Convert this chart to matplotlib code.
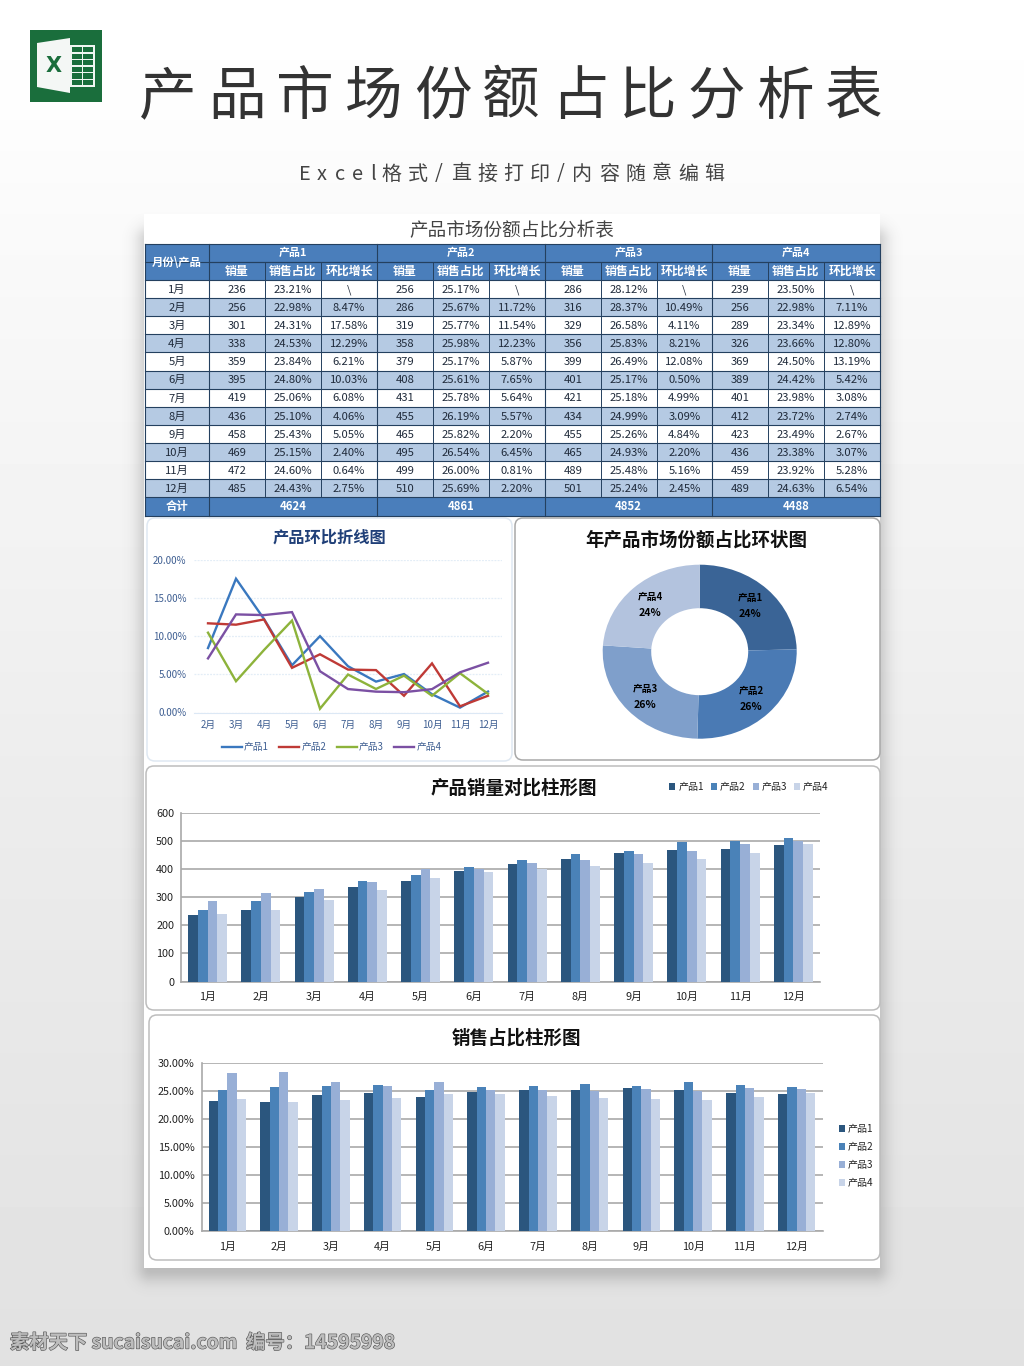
import numpy as np
import matplotlib
matplotlib.use("Agg")
import matplotlib.pyplot as plt
from matplotlib.patches import Rectangle, FancyBboxPatch, Polygon
from matplotlib.font_manager import FontProperties
from matplotlib.textpath import TextPath
import matplotlib.patheffects as pe

plt.rcParams['font.family'] = ['Noto Sans CJK SC', 'DejaVu Sans']

# ---------- data ----------
months = ['1月','2月','3月','4月','5月','6月','7月','8月','9月','10月','11月','12月']
products = ['产品1','产品2','产品3','产品4']
sales1 = [236,256,301,338,359,395,419,436,458,469,472,485]
sales2 = [256,286,319,358,379,408,431,455,465,495,499,510]
sales3 = [286,316,329,356,399,401,421,434,455,465,489,501]
sales4 = [239,256,289,326,369,389,401,412,423,436,459,489]
share1 = [23.21,22.98,24.31,24.53,23.84,24.80,25.06,25.10,25.43,25.15,24.60,24.43]
share2 = [25.17,25.67,25.77,25.98,25.17,25.61,25.78,26.19,25.82,26.54,26.00,25.69]
share3 = [28.12,28.37,26.58,25.83,26.49,25.17,25.18,24.99,25.26,24.93,25.48,25.24]
share4 = [23.50,22.98,23.34,23.66,24.50,24.42,23.98,23.72,23.49,23.38,23.92,24.63]
growth1 = [None,8.47,17.58,12.29,6.21,10.03,6.08,4.06,5.05,2.40,0.64,2.75]
growth2 = [None,11.72,11.54,12.23,5.87,7.65,5.64,5.57,2.20,6.45,0.81,2.20]
growth3 = [None,10.49,4.11,8.21,12.08,0.50,4.99,3.09,4.84,2.20,5.16,2.45]
growth4 = [None,7.11,12.89,12.80,13.19,5.42,3.08,2.74,2.67,3.07,5.28,6.54]
totals = [4624,4861,4852,4488]
donut_pct = ['24%','26%','26%','24%']
sub_headers = ['销量','销售占比','环比增长']
sales = [sales1,sales2,sales3,sales4]
shares = [share1,share2,share3,share4]
growths = [growth1,growth2,growth3,growth4]

W, H = 1024, 1366
fig = plt.figure(figsize=(W/100, H/100), dpi=100)
pg = fig.add_axes([0,0,1,1], zorder=0)
pg.set_xlim(0,W); pg.set_ylim(H,0); pg.axis('off')

def axpx(x0,y0,x1,y1):
    a = fig.add_axes([x0/W, 1-y1/H, (x1-x0)/W, (y1-y0)/H], zorder=2)
    a.patch.set_alpha(0)
    return a

# ---------- background ----------
yy, xx = np.mgrid[0:H, 0:W]
grey = np.interp(yy[:,0], [0,120,214,800,1366], [255,253,250,236,225])
pg.imshow(np.repeat(grey[:,None],W,axis=1)/255, cmap='gray', vmin=0, vmax=1,
          extent=(0,W,H,0), aspect='auto', zorder=0)
dx = np.maximum(np.maximum(150-xx, xx-874), 0)
dy = np.maximum(np.maximum(240-yy, yy-1268), 0)
d = np.hypot(dx,dy)
sh = np.zeros((H,W,4)); sh[...,:3] = 0.3
sh[...,3] = 0.26*np.exp(-(d/14.0)**2)
pg.imshow(sh, extent=(0,W,H,0), aspect='auto', zorder=1)
pg.set_xlim(0,W); pg.set_ylim(H,0)
pg.add_patch(Rectangle((144,214),736,1054,fc='white',ec='none',zorder=2))

# ---------- header ----------
def spaced(x, y, s, size_px, spacing, **kw):
    fp = FontProperties(family='Noto Sans CJK SC', weight=kw.get('weight','normal'))
    for ch in s:
        w = TextPath((0,0), ch, size=size_px, prop=fp).get_extents().width if ch.isascii() else size_px
        if ch.isascii(): w = w + size_px*0.12
        pg.text(x, y, ch, fontsize=size_px*0.72, ha='left', va='center', zorder=5, **kw)
        x += w + spacing

# icon
pg.add_patch(Rectangle((30,30),72,72,fc='#1a6e3c',ec='none',zorder=5))
pg.add_patch(Rectangle((70,45),25,42,fc='#f1f6f2',ec='none',zorder=6))
for r in range(6):
    for c in range(2):
        pg.add_patch(Rectangle((72+c*11,47+r*6.6),9.5,5.2,fc='#1a6e3c',ec='none',zorder=7))
pg.add_patch(Polygon([(37,43),(70,38),(70,93),(37,87)],fc='#f4f7f5',ec='none',zorder=8))
pg.text(54,65.5,'X',color='#1a6e3c',fontsize=15,fontweight='bold',ha='center',va='center',
        family=['Liberation Sans Narrow','DejaVu Sans'],zorder=9)

title = '产品市场份额占比分析表'
for i,ch in enumerate(title):
    pg.text(168+i*68.6, 97.5, ch, fontsize=41.5, color='#333333', ha='center', va='center', zorder=5)
spaced(299,174,'Excel格式/直接打印/内容随意编辑',20,6.4,color='#444444')
pg.text(512,230.5,title,fontsize=13.4,color='#444444',ha='center',va='center',zorder=5)

# ---------- table ----------
navy = '#24405f'; hdr = '#4a7ebb'; band = '#b5cae3'
cx = [145,209,265,321,377,433,489,545,601,657,712,768,824,880]
ry = [244,262,280] + [280+18.1*(i+1) for i in range(12)] + [516]
T0,T1 = cx[0],cx[-1]
pg.add_patch(Rectangle((T0,ry[0]),T1-T0,ry[2]-ry[0],fc=hdr,ec='none',zorder=3))
pg.add_patch(Rectangle((T0,ry[14]),T1-T0,ry[15]-ry[14],fc=hdr,ec='none',zorder=3))
for i in range(12):
    if i%2==1:
        pg.add_patch(Rectangle((T0,ry[2+i]),T1-T0,ry[3+i]-ry[2+i],fc=band,ec='none',zorder=3))
for y in ry:
    pg.plot([T0,T1],[y,y],color=navy,lw=0.8,zorder=4)
pg.plot([cx[1],T1],[ry[1]]*2,color=navy,lw=0.8,zorder=4)
for j,x in enumerate(cx):
    if j%3==1 or j==0 or j==13:
        pg.plot([x,x],[ry[0],ry[-1]],color=navy,lw=0.8,zorder=4)
    else:
        pg.plot([x,x],[ry[1],ry[-2]],color=navy,lw=0.7,zorder=4)
hk = dict(color='white',fontweight='bold',ha='center',va='center',zorder=5)
tk = dict(color='#1f2a3a',ha='center',va='center',zorder=5,fontsize=8.1)
pg.text((cx[0]+cx[1])/2,ry[1],'月份\\产品',fontsize=8.2,**hk)
pg.text((cx[0]+cx[1])/2,(ry[14]+ry[15])/2,'合计',fontsize=8.2,**hk)
for p in range(4):
    a = cx[1+3*p]; b = cx[4+3*p]
    pg.text((a+b)/2,(ry[0]+ry[1])/2,products[p],fontsize=7.9,**hk)
    pg.text((a+b)/2,(ry[14]+ry[15])/2,str(totals[p]),fontsize=8.2,**hk)
    for k in range(3):
        pg.text((cx[1+3*p+k]+cx[2+3*p+k])/2,(ry[1]+ry[2])/2+0.5,sub_headers[k],fontsize=8.6,**hk)
for i,m in enumerate(months):
    yc = (ry[2+i]+ry[3+i])/2+0.8
    pg.text((cx[0]+cx[1])/2,yc,m,**{**tk,'fontsize':8.1})
    for p in range(4):
        g = growths[p][i]
        vals = [str(sales[p][i]), f'{shares[p][i]:.2f}%', '\\' if g is None else f'{g:.2f}%']
        for k in range(3):
            pg.text((cx[1+3*p+k]+cx[2+3*p+k])/2,yc,vals[k],**tk)

# ---------- cards ----------
def card(x0,y0,x1,y1,ec):
    pg.add_patch(FancyBboxPatch((x0+8,y0+8),x1-x0-16,y1-y0-16,boxstyle='round,pad=8,rounding_size=8',
                                fc='white',ec=ec,lw=1.1,zorder=3))
card(147,518,512,761,'#dfe8f2')
card(515,518,880,760,'#a8a8a8')
card(146,766,880,1010,'#bdbdbd')
card(149,1015,880,1260,'#bdbdbd')

# ---------- line chart ----------
lcol = ['#3a78bf','#bf3a36','#8db33b','#7b50a3']
a1 = axpx(194,560.3,502,712.5)
for p in range(4):
    a1.plot(months[1:],growths[p][1:],color=lcol[p],lw=1.7,label=products[p],solid_joinstyle='miter')
a1.set_xlim(-0.5,10.5); a1.set_ylim(0,20)
a1.set_yticks([0,5,10,15,20]); a1.set_yticklabels([f'{v:.2f}%' for v in [0,5,10,15,20]])
a1.grid(axis='y',color='#e3edf7',lw=0.9,ls=(0,(1.5,1)))
a1.set_axisbelow(True)
for s in a1.spines.values(): s.set_visible(False)
a1.spines['bottom'].set_visible(True); a1.spines['bottom'].set_color('#dce8f5')
a1.tick_params(length=0,labelsize=7,labelcolor='#3f5f92')
a1.tick_params(axis='x',pad=5.5); a1.tick_params(axis='y',pad=5.5)
a1.legend(loc='center',bbox_to_anchor=(331.5,747),bbox_transform=pg.transData,ncol=4,frameon=False,
          fontsize=7,labelcolor='#3f5f92',handlelength=2.06,handletextpad=0.2,columnspacing=1.1,borderpad=0)
pg.text(329,538,'产品环比折线图',fontsize=11.7,fontweight='bold',color='#1f3f78',ha='center',va='center',zorder=5)

# ---------- donut ----------
a2 = axpx(699.7-97,651.7-87,699.7+97,651.7+87)
dcol = ['#3a6496','#4a7ab4','#7f9fcb','#b3c3de']
a2.pie(totals,colors=dcol,startangle=90,counterclock=False,radius=1,
       wedgeprops=dict(width=0.5,edgecolor='none'))
a2.set_aspect('auto')
a2.set_xlim(-1,1); a2.set_ylim(-1,1)
dpos = [(750,598),(751,691),(645,689),(650,597)]
for (x,y),n,v in zip(dpos,products,donut_pct):
    a2.text(x,y,n,transform=pg.transData,fontsize=7,fontweight='bold',color='black',ha='center',va='center')
    a2.text(x,y+16,v,transform=pg.transData,fontsize=7.6,fontweight='bold',color='black',ha='center',va='center')
pg.text(696.5,540,'年产品市场份额占比环状图',fontsize=13.3,fontweight='bold',color='#111111',ha='center',va='center',zorder=5)

# ---------- bars ----------
bcol = ['#2b567e','#4a82b8','#98afd6','#c8d4e8']
def bars(a,series,grp,xpad):
    x = np.arange(len(months)); w = grp/4
    for p,s in enumerate(series):
        a.bar(x+(p-1.5)*w,s,w,color=bcol[p],label=products[p],zorder=3)
    a.set_xticks(x); a.set_xticklabels(months)
    a.set_xlim(-0.5,len(months)-0.5)
    a.grid(axis='y',color='#a9a9a9',lw=1.2)
    a.set_axisbelow(True)
    for k in ['top','right']: a.spines[k].set_visible(False)
    for k in ['left','bottom']:
        a.spines[k].set_color('#a9a9a9'); a.spines[k].set_linewidth(1.2)
    a.tick_params(length=0,labelsize=7.8,labelcolor='#222222')
    a.tick_params(axis='x',pad=xpad); a.tick_params(axis='y',pad=5)

a3 = axpx(181,813,820,981.5)
bars(a3,sales,0.735,7.2)
a3.set_ylim(0,600); a3.set_yticks(range(0,601,100))
a3.legend(loc='center',bbox_to_anchor=(749,787),bbox_transform=pg.transData,ncol=4,frameon=False,
          fontsize=7.2,labelcolor='#222222',handlelength=0.6,handleheight=0.6,handletextpad=0.3,columnspacing=0.7,borderpad=0)
pg.text(514,788,'产品销量对比柱形图',fontsize=13.3,fontweight='bold',color='#111111',ha='center',va='center',zorder=5)

a4 = axpx(201.5,1062.7,822.5,1231)
bars(a4,shares,0.72,8)
a4.set_ylim(0,30); a4.set_yticks(range(0,31,5))
a4.set_yticklabels([f'{v:.2f}%' for v in range(0,31,5)])
a4.legend(loc='center',bbox_to_anchor=(856,1156),bbox_transform=pg.transData,ncol=1,frameon=False,
          fontsize=7.2,labelcolor='#222222',handlelength=0.6,handleheight=0.6,handletextpad=0.3,labelspacing=0.8,borderpad=0)
pg.text(516,1038,'销售占比柱形图',fontsize=13.3,fontweight='bold',color='#111111',ha='center',va='center',zorder=5)

# ---------- watermark ----------
pg.text(10,1343,'素材天下 sucaisucai.com  编号：14595998',fontsize=13.9,color='#bdbdbd',fontweight='bold',
        ha='left',va='center',zorder=6,
        path_effects=[pe.withStroke(linewidth=0.9,foreground='#5a5a5a')])

fig.savefig('out.png',dpi=100)
